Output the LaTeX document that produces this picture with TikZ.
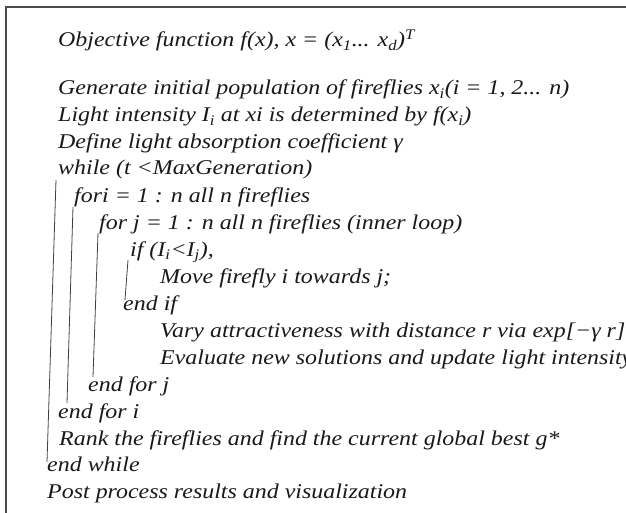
\documentclass[tikz,border=0pt]{standalone}
\usepackage{fontspec}
\setmainfont{Liberation Serif}[ItalicFont={Liberation Serif Italic}]
\newfontfamily\algfont{Liberation Serif Italic}[FakeStretch=1.14]
\begin{document}
\begin{tikzpicture}[x=1pt,y=-1pt,
  ln/.style={font=\algfont\fontsize{21}{25}\selectfont, anchor=base west, inner sep=0pt, text=black!90},
  bar/.style={draw=black!75, line width=0.8pt}]
\useasboundingbox (0,0) rectangle (626,513);
\draw[draw=black!70, line width=1.1pt] (6,7) rectangle (700,600);
\node[ln] (obj) at (58,47) {Objective function f(x), x = (x\textsubscript{1}... x\textsubscript{d})\textsuperscript{T}};
\node[ln] (gen) at (58,95) {Generate initial population of fireflies x\textsubscript{i}(i = 1, 2... n)};
\node[ln] (light) at (58,122) {Light intensity I\textsubscript{i} at xi is determined by f(x\textsubscript{i})};
\node[ln] (def) at (58,149) {Define light absorption coefficient γ};
\node[ln] (wh) at (58,175) {while (t <MaxGeneration)};
\node[ln] (fori) at (74,202) {fori = 1 : n all n fireflies};
\node[ln] (forj) at (99,229) {for j = 1 : n all n fireflies (inner loop)};
\node[ln] (if) at (130,256) {if (I\textsubscript{i}<I\textsubscript{j}),};
\node[ln] (move) at (160,283) {Move firefly i towards j;};
\node[ln] (endif) at (123,310) {end if};
\node[ln] (vary) at (160,337) {Vary attractiveness with distance r via exp[−γ r]};
\node[ln] (eval) at (160,364) {Evaluate new solutions and update light intensity};
\node[ln] (endj) at (88,391) {end for j};
\node[ln] (endi) at (58,418) {end for i};
\node[ln] (rank) at (59,445) {Rank the fireflies and find the current global best g*};
\node[ln] (endw) at (47,471) {end while};
\node[ln] (post) at (47,498) {Post process results and visualization};
\coordinate (wtop) at (56,180);
\coordinate (wbot) at (47,462);
\coordinate (itop) at (73,207);
\coordinate (ibot) at (67,403);
\coordinate (jtop) at (98,233);
\coordinate (jbot) at (93,377);
\coordinate (ftop) at (128,260);
\coordinate (fbot) at (125,300);
\draw[bar] (wtop) -- (wbot);
\draw[bar] (itop) -- (ibot);
\draw[bar] (jtop) -- (jbot);
\draw[bar] (ftop) -- (fbot);
\end{tikzpicture}
\end{document}
